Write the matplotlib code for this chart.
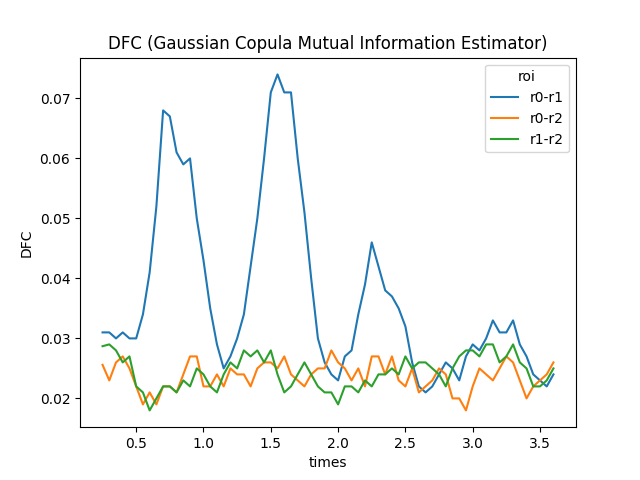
import numpy as np
import matplotlib
matplotlib.use("Agg")
import matplotlib.pyplot as plt

TIMES = np.round(np.arange(0.25, 3.6001, 0.05), 2)

R0_R1 = [
    0.031, 0.031, 0.030, 0.031, 0.030, 0.030, 0.034, 0.041, 0.052, 0.068,
    0.067, 0.061, 0.059, 0.060, 0.050, 0.043, 0.035, 0.029, 0.025, 0.027,
    0.030, 0.034, 0.042, 0.050, 0.060, 0.071, 0.074, 0.071, 0.071, 0.060,
    0.051, 0.040, 0.030, 0.026, 0.024, 0.023, 0.027, 0.028, 0.034, 0.039,
    0.046, 0.042, 0.038, 0.037, 0.035, 0.032, 0.026, 0.022, 0.021, 0.022,
    0.024, 0.026, 0.025, 0.023, 0.027, 0.029, 0.028, 0.030, 0.033, 0.031,
    0.031, 0.033, 0.029, 0.027, 0.024, 0.023, 0.022, 0.024,
]
R0_R2 = [
    0.0256, 0.023, 0.026, 0.027, 0.025, 0.022, 0.019, 0.021, 0.019, 0.022,
    0.022, 0.021, 0.024, 0.027, 0.027, 0.022, 0.022, 0.024, 0.022, 0.025,
    0.024, 0.024, 0.022, 0.025, 0.026, 0.026, 0.025, 0.027, 0.024, 0.023,
    0.022, 0.024, 0.025, 0.025, 0.028, 0.026, 0.025, 0.023, 0.025, 0.022,
    0.027, 0.027, 0.024, 0.027, 0.023, 0.022, 0.025, 0.021, 0.022, 0.023,
    0.025, 0.024, 0.020, 0.020, 0.018, 0.022, 0.025, 0.024, 0.023, 0.025,
    0.027, 0.026, 0.023, 0.020, 0.022, 0.023, 0.024, 0.026,
]
R1_R2 = [
    0.0287, 0.029, 0.028, 0.026, 0.027, 0.022, 0.021, 0.018, 0.020, 0.022,
    0.022, 0.021, 0.023, 0.022, 0.025, 0.024, 0.022, 0.021, 0.024, 0.026,
    0.025, 0.028, 0.027, 0.028, 0.026, 0.028, 0.024, 0.021, 0.022, 0.024,
    0.026, 0.024, 0.022, 0.021, 0.021, 0.019, 0.022, 0.022, 0.021, 0.023,
    0.022, 0.024, 0.024, 0.025, 0.024, 0.027, 0.025, 0.026, 0.026, 0.025,
    0.024, 0.022, 0.025, 0.027, 0.028, 0.028, 0.027, 0.029, 0.029, 0.026,
    0.027, 0.029, 0.026, 0.025, 0.022, 0.022, 0.023, 0.025,
]

fig, ax = plt.subplots(figsize=(6.4, 4.8), dpi=100)
ax.plot(TIMES, R0_R1, label="r0-r1")
ax.plot(TIMES, R0_R2, label="r0-r2")
ax.plot(TIMES, R1_R2, label="r1-r2")
ax.set_title("DFC (Gaussian Copula Mutual Information Estimator)")
ax.set_xlabel("times")
ax.set_ylabel("DFC")
ax.legend(title="roi")
fig.savefig("out.png")
